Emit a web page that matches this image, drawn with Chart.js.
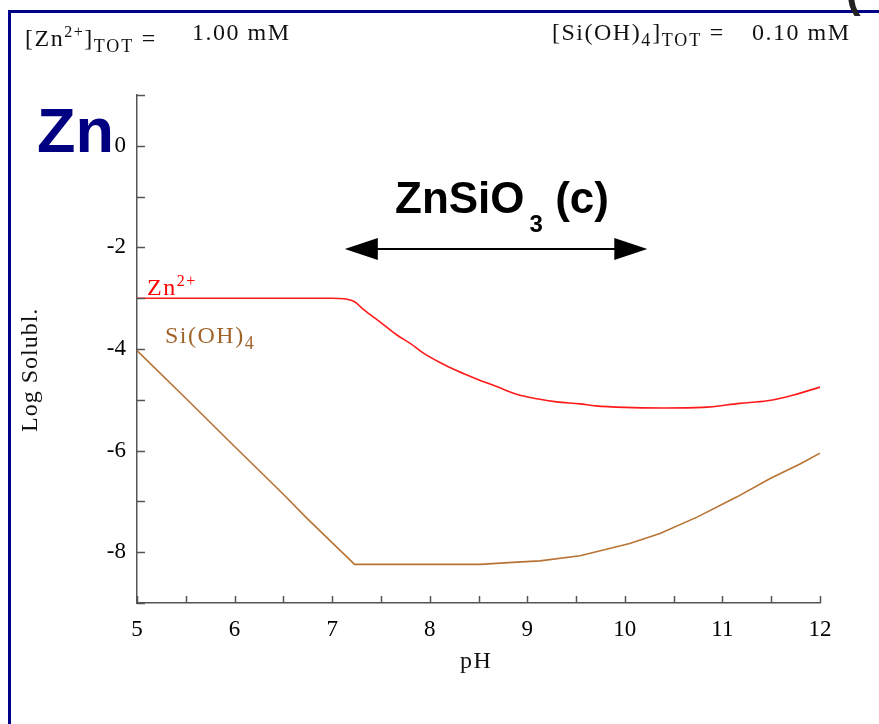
<!DOCTYPE html>
<html>
<head>
<meta charset="utf-8">
<script src="https://cdn.jsdelivr.net/npm/chart.js@4.4.1/dist/chart.umd.min.js"></script>
<style>
  html, body { margin:0; padding:0; background:#fff; }
  body { width:879px; height:724px; position:relative; overflow:hidden; }
  #c { position:absolute; left:0; top:0; }
  .frameTop { position:absolute; left:8px; top:10px; width:871px; height:3px; background:#000088; }
  .frameLeft { position:absolute; left:8px; top:10px; width:3px; height:714px; background:#000088; }
  .serif { position:absolute; font-family:"Liberation Serif","Times New Roman",serif; font-size:24px; line-height:24px; white-space:pre; color:#111; letter-spacing:1.5px; }
  .sup { font-size:16px; vertical-align:9px; letter-spacing:1.5px; }
  .sub { font-size:18px; vertical-align:-6px; letter-spacing:2px; }
  .sans { position:absolute; font-family:"Liberation Sans",Arial,sans-serif; font-weight:bold; white-space:pre; }
</style>
</head>
<body>
<canvas id="c" width="879" height="724"></canvas>
<div class="frameTop"></div>
<div class="frameLeft"></div>
<div class="sans" style="left:846px; top:-30px; font-size:44px; line-height:44px; color:#222;">(</div>

<div class="serif" style="left:25px; top:20.4px;">[Zn<span class="sup">2+</span>]<span class="sub">TOT</span> =</div>
<div class="serif" style="left:192px; top:20.4px;">1.00 mM</div>
<div class="serif" style="left:552px; top:20.4px;">[Si(OH)<span class="sub">4</span>]<span class="sub">TOT</span> =</div>
<div class="serif" style="left:752px; top:20.4px;">0.10 mM</div>

<div class="sans" style="left:37px; top:98.7px; font-size:63px; line-height:63px; color:#000080;">Zn</div>
<div class="sans" style="left:395px; top:175.8px; font-size:44px; line-height:44px; color:#000;">ZnSiO<span style="font-size:24px; vertical-align:-19px; margin-left:5px;">3</span> (c)</div>

<div class="serif" style="left:147px; top:268.9px; color:#ff0000;">Zn<span class="sup">2+</span></div>
<div class="serif" style="left:165px; top:322.9px; color:#a0642a;">Si(OH)<span class="sub">4</span></div>
<div class="serif" style="left:460px; top:647.9px;">pH</div>
<div class="serif" style="left:16.9px; top:432px; transform:rotate(-90deg); transform-origin:left top; letter-spacing:1px;">Log Solubl.</div>

<script>
// ---- data ----
const phZn = [5, 6, 7, 7.12, 7.23, 7.32, 7.5, 7.66, 7.8, 7.92, 8.1, 8.28, 8.48, 8.7, 8.89, 9.1, 9.3, 9.54, 9.7, 10.0, 10.4, 10.8, 11.18, 11.46, 11.72, 12];
const logZn = [-3.0, -3.0, -3.0, -3.01, -3.07, -3.22, -3.48, -3.72, -3.89, -4.06, -4.26, -4.43, -4.59, -4.75, -4.89, -4.98, -5.04, -5.08, -5.12, -5.15, -5.16, -5.15, -5.07, -5.02, -4.91, -4.75];

const phSi = [5, 5.5, 6, 6.5, 6.74, 7.01, 7.23, 7.6, 8, 8.52, 8.85, 9.13, 9.54, 10.05, 10.36, 10.74, 11.15, 11.49, 11.8, 12];
const logSi = [-4.03, -4.97, -5.92, -6.86, -7.33, -7.83, -8.24, -8.24, -8.24, -8.24, -8.20, -8.17, -8.07, -7.83, -7.63, -7.31, -6.91, -6.55, -6.26, -6.05];

const xTickLabels = [5, 6, 7, 8, 9, 10, 11, 12];
const yTickLabels = [0, -2, -4, -6, -8];

// ZnSiO3 (c) range annotation (pH span, log level)
const arrowSpan = [7.13, 10.23];
const arrowLevel = -2.03;

const toPts = (xs, ys) => xs.map((x, i) => ({ x: x, y: ys[i] }));

const innerTicks = {
  id: 'innerTicks',
  afterDraw(chart) {
    const ctx = chart.ctx;
    const xs = chart.scales.x, ys = chart.scales.y;
    const a = chart.chartArea;
    ctx.save();
    ctx.strokeStyle = '#555';
    ctx.lineWidth = 1.5;
    ctx.beginPath();
    ys.ticks.forEach(t => {
      const py = Math.round(ys.getPixelForValue(t.value)) + 0.5;
      ctx.moveTo(a.left, py); ctx.lineTo(a.left + 8, py);
    });
    xs.ticks.forEach(t => {
      const px = Math.round(xs.getPixelForValue(t.value)) + 0.5;
      ctx.moveTo(px, a.bottom); ctx.lineTo(px, a.bottom - 7);
    });
    ctx.stroke();

    // double arrow
    const x1 = xs.getPixelForValue(arrowSpan[0]);
    const x2 = xs.getPixelForValue(arrowSpan[1]);
    const y = ys.getPixelForValue(arrowLevel);
    const hl = 33, hh = 11;
    ctx.strokeStyle = '#000';
    ctx.fillStyle = '#000';
    ctx.lineWidth = 2;
    ctx.beginPath();
    ctx.moveTo(x1 + hl - 2, y); ctx.lineTo(x2 - hl + 2, y);
    ctx.stroke();
    ctx.beginPath();
    ctx.moveTo(x1, y); ctx.lineTo(x1 + hl, y - hh); ctx.lineTo(x1 + hl, y + hh); ctx.closePath();
    ctx.fill();
    ctx.beginPath();
    ctx.moveTo(x2, y); ctx.lineTo(x2 - hl, y - hh); ctx.lineTo(x2 - hl, y + hh); ctx.closePath();
    ctx.fill();
    ctx.restore();
  }
};

const tickFont = { family: '"Liberation Serif", "Times New Roman", serif', size: 23 };

new Chart(document.getElementById('c'), {
  type: 'line',
  data: {
    datasets: [
      { label: 'Zn2+', data: toPts(phZn, logZn), borderColor: '#ff1a1a', borderWidth: 1.6, pointRadius: 0, cubicInterpolationMode: 'monotone', fill: false },
      { label: 'Si(OH)4', data: toPts(phSi, logSi), borderColor: '#b87333', borderWidth: 1.6, pointRadius: 0, tension: 0, fill: false }
    ]
  },
  options: {
    responsive: false,
    animation: false,
    devicePixelRatio: 1,
    layout: { padding: { top: 95, right: 59, left: 0, bottom: 0 } },
    plugins: { legend: { display: false }, tooltip: { enabled: false } },
    scales: {
      x: {
        type: 'linear', min: 5, max: 12,
        afterFit: s => { s.height = 121; },
        ticks: {
          stepSize: 0.5, autoSkip: false, maxRotation: 0, padding: 13,
          color: '#000', font: tickFont,
          callback: v => xTickLabels.includes(v) ? String(v) : ''
        },
        grid: { drawOnChartArea: false, drawTicks: false },
        border: { color: '#555', width: 1.5 }
      },
      y: {
        type: 'linear', min: -9, max: 1,
        afterFit: s => { s.width = 137; },
        ticks: {
          stepSize: 1, autoSkip: false, padding: 11,
          color: '#000', font: tickFont,
          callback: v => yTickLabels.includes(v) ? String(v) : ''
        },
        grid: { drawOnChartArea: false, drawTicks: false },
        border: { color: '#555', width: 1.5 }
      }
    }
  },
  plugins: [innerTicks]
});
</script>
</body>
</html>
